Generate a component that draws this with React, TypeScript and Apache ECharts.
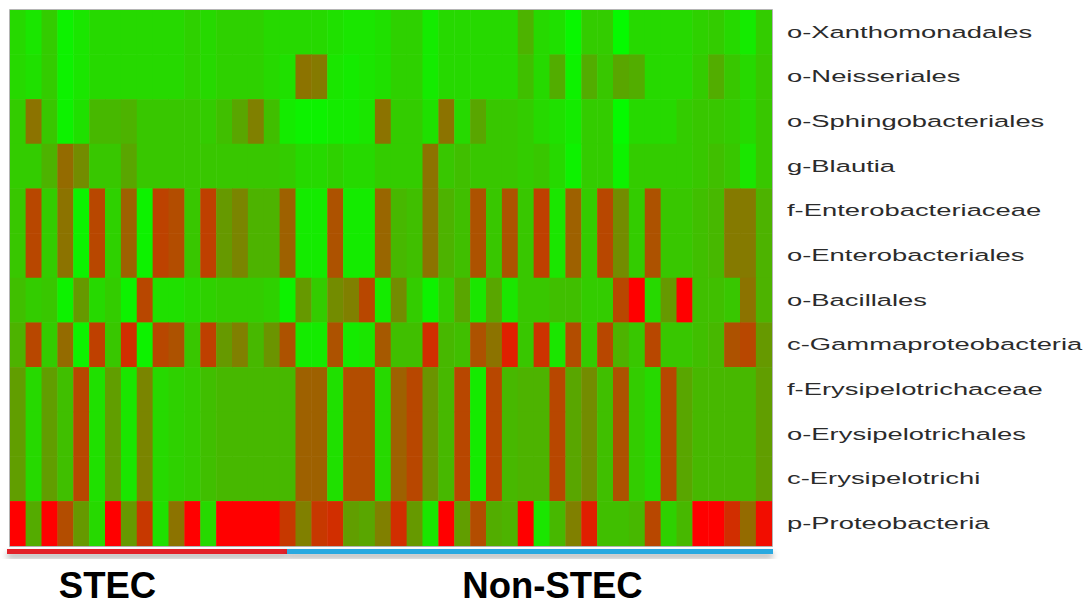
import React, { useEffect, useRef } from "react";
import * as echarts from "echarts";

// Row (taxon) labels, top to bottom
const rowLabels = [
  "o-Xanthomonadales",
  "o-Neisseriales",
  "o-Sphingobacteriales",
  "g-Blautia",
  "f-Enterobacteriaceae",
  "o-Enterobacteriales",
  "o-Bacillales",
  "c-Gammaproteobacteria",
  "f-Erysipelotrichaceae",
  "o-Erysipelotrichales",
  "c-Erysipelotrichi",
  "p-Proteobacteria",
];

// Sample columns (48 samples)
const samples = [
  "S01", "S02", "S03", "S04", "S05", "S06", "S07", "S08", "S09", "S10", "S11", "S12",
  "S13", "S14", "S15", "S16", "S17", "S18", "S19", "S20", "S21", "S22", "S23", "S24",
  "S25", "S26", "S27", "S28", "S29", "S30", "S31", "S32", "S33", "S34", "S35", "S36",
  "S37", "S38", "S39", "S40", "S41", "S42", "S43", "S44", "S45", "S46", "S47", "S48",
];

// Relative abundance score per sample (0 = green, 100 = red)
const xanthomonadales = [15, 10, 20, 5, 10, 15, 15, 15, 15, 15, 15, 18, 15, 18, 18, 18, 15, 15, 15, 15, 12, 10, 10, 12, 18, 18, 8, 15, 15, 15, 15, 15, 30, 15, 12, 3, 20, 20, 2, 15, 15, 15, 15, 18, 20, 15, 8, 20];
const neisseriales = [15, 12, 20, 5, 10, 15, 15, 15, 15, 15, 15, 18, 15, 18, 18, 18, 15, 12, 55, 52, 10, 8, 10, 12, 18, 18, 8, 15, 15, 15, 15, 15, 25, 15, 32, 5, 32, 22, 35, 32, 15, 15, 15, 20, 32, 22, 15, 22];
const sphingobacteriales = [20, 55, 22, 5, 12, 28, 28, 30, 22, 22, 22, 22, 20, 25, 35, 50, 25, 8, 5, 5, 8, 8, 10, 55, 20, 20, 12, 55, 15, 35, 22, 22, 20, 15, 12, 8, 20, 20, 2, 15, 15, 15, 20, 22, 22, 20, 15, 22];
const blautia = [20, 20, 30, 58, 45, 22, 22, 35, 22, 22, 22, 22, 22, 22, 22, 22, 22, 20, 15, 15, 18, 15, 15, 20, 20, 20, 55, 22, 25, 22, 22, 22, 20, 22, 15, 5, 20, 20, 5, 20, 20, 20, 20, 22, 25, 22, 10, 22];
const enterobacteriaceae = [22, 72, 20, 55, 5, 72, 18, 62, 5, 74, 70, 22, 75, 40, 48, 30, 30, 62, 8, 8, 68, 8, 8, 60, 28, 25, 55, 30, 25, 68, 22, 68, 22, 75, 10, 62, 20, 72, 45, 20, 68, 22, 22, 25, 28, 52, 52, 30];
const enterobacteriales = [22, 72, 20, 55, 5, 72, 18, 62, 5, 74, 70, 22, 75, 40, 48, 30, 30, 62, 8, 8, 68, 8, 8, 60, 28, 25, 55, 30, 25, 68, 22, 68, 22, 75, 10, 62, 20, 72, 45, 20, 68, 22, 22, 25, 28, 52, 52, 30];
const bacillales = [25, 20, 22, 5, 40, 15, 20, 5, 72, 12, 12, 15, 18, 20, 20, 20, 18, 5, 40, 20, 45, 50, 72, 8, 45, 20, 5, 20, 35, 10, 35, 10, 22, 22, 25, 25, 20, 20, 72, 100, 15, 40, 100, 25, 25, 22, 55, 30];
const gammaproteobacteria = [30, 72, 20, 58, 5, 75, 22, 82, 5, 72, 68, 22, 75, 40, 50, 28, 42, 68, 8, 8, 68, 8, 10, 65, 25, 25, 82, 28, 25, 68, 55, 88, 22, 80, 10, 70, 20, 72, 30, 22, 72, 22, 22, 25, 28, 68, 72, 40];
const erysipelotrichaceae = [38, 15, 38, 25, 72, 12, 38, 10, 48, 15, 18, 20, 25, 28, 28, 28, 28, 28, 62, 62, 12, 70, 70, 15, 62, 72, 42, 28, 72, 8, 72, 28, 30, 30, 72, 35, 45, 25, 68, 20, 15, 72, 35, 28, 28, 28, 28, 38];
const erysipelotrichales = [38, 15, 38, 25, 72, 12, 38, 10, 48, 15, 18, 20, 25, 28, 28, 28, 28, 28, 62, 62, 12, 70, 70, 15, 62, 72, 42, 28, 72, 8, 72, 28, 30, 30, 72, 35, 45, 25, 68, 20, 15, 72, 35, 28, 28, 28, 28, 38];
const erysipelotrichi = [38, 15, 38, 25, 72, 12, 38, 10, 48, 15, 18, 20, 25, 28, 28, 28, 28, 28, 62, 62, 12, 70, 70, 15, 62, 72, 42, 28, 72, 8, 72, 28, 30, 30, 72, 35, 45, 25, 68, 20, 15, 72, 35, 28, 28, 28, 28, 38];
const proteobacteria = [100, 33, 100, 70, 40, 15, 100, 40, 78, 12, 55, 100, 15, 100, 100, 100, 100, 78, 50, 78, 82, 38, 35, 50, 82, 40, 10, 100, 38, 70, 32, 30, 100, 10, 28, 50, 88, 25, 25, 28, 72, 18, 28, 100, 100, 82, 58, 95];

const rowValues = [
  xanthomonadales,
  neisseriales,
  sphingobacteriales,
  blautia,
  enterobacteriaceae,
  enterobacteriales,
  bacillales,
  gammaproteobacteria,
  erysipelotrichaceae,
  erysipelotrichales,
  erysipelotrichi,
  proteobacteria,
];

// Sample groups shown under the heatmap
const groupNames = ["STEC", "Non-STEC"];
const groupColors = ["#e3202b", "#2aa9e0"];

export default function App() {
  const ref = useRef<HTMLDivElement>(null);

  useEffect(() => {
    document.body.style.margin = "0";
    if (!ref.current) return;
    const chart = echarts.init(ref.current, null, { renderer: "svg" });

    const heatData: number[][] = [];
    rowValues.forEach((row, r) => {
      row.forEach((v, c) => heatData.push([c, r, v]));
    });

    const gridLeft = 10;
    const gridTop = 10;
    const gridWidth = 762;
    const gridHeight = 536;
    const barY = gridTop + gridHeight + 3;
    const split = 287;

    chart.setOption({
      animation: false,
      backgroundColor: "#ffffff",
      grid: { left: gridLeft, top: gridTop, width: gridWidth, height: gridHeight },
      xAxis: { type: "category", data: samples, show: false },
      yAxis: { type: "category", data: rowLabels, inverse: true, show: false },
      visualMap: {
        show: false,
        min: 0,
        max: 100,
        dimension: 2,
        seriesIndex: 0,
        inRange: { color: ["#00ff00", "#ff0000"] },
      },
      series: [
        {
          type: "heatmap",
          data: heatData,
          itemStyle: { borderWidth: 0 },
          emphasis: { disabled: true },
        },
        {
          type: "custom",
          coordinateSystem: "cartesian2d",
          clip: false,
          silent: true,
          z: 10,
          data: rowLabels.map((_, i) => [samples.length - 1, i]),
          renderItem: (params: any, api: any) => {
            const pt = api.coord([api.value(0), api.value(1)]);
            const w = api.size([1, 0])[0];
            return {
              type: "text",
              x: pt[0] + w / 2 + 15,
              y: pt[1],
              scaleX: 1.66,
              style: {
                text: rowLabels[params.dataIndex],
                fill: "#2b2b2b",
                font: '16.5px "Liberation Sans", Arial, sans-serif',
                align: "left",
                verticalAlign: "middle",
              },
            };
          },
        },
      ],
      graphic: [
        {
          type: "rect",
          z: 20,
          silent: true,
          shape: { x: gridLeft - 0.5, y: gridTop - 0.5, width: gridWidth + 1, height: gridHeight + 1 },
          style: { fill: "none", stroke: "#b4b4b4", lineWidth: 1 },
        },
        {
          type: "rect",
          z: 5,
          shape: { x: 7, y: barY, width: split - 7, height: 5 },
          style: { fill: groupColors[0], shadowBlur: 6, shadowOffsetY: 4, shadowColor: "rgba(0,0,0,0.35)" },
        },
        {
          type: "rect",
          z: 5,
          shape: { x: split, y: barY, width: 773 - split, height: 5 },
          style: { fill: groupColors[1], shadowBlur: 6, shadowOffsetY: 4, shadowColor: "rgba(0,0,0,0.35)" },
        },
        {
          type: "text",
          x: 107.5,
          y: 585,
          style: {
            text: groupNames[0],
            font: 'bold 36.5px "Liberation Sans", Arial, sans-serif',
            fill: "#000000",
            align: "center",
            verticalAlign: "middle",
          },
        },
        {
          type: "text",
          x: 552.5,
          y: 585,
          style: {
            text: groupNames[1],
            font: 'bold 36.5px "Liberation Sans", Arial, sans-serif',
            fill: "#000000",
            align: "center",
            verticalAlign: "middle",
          },
        },
      ],
    });

    return () => chart.dispose();
  }, []);

  return <div ref={ref} style={{ width: 1091, height: 604 }} />;
}
